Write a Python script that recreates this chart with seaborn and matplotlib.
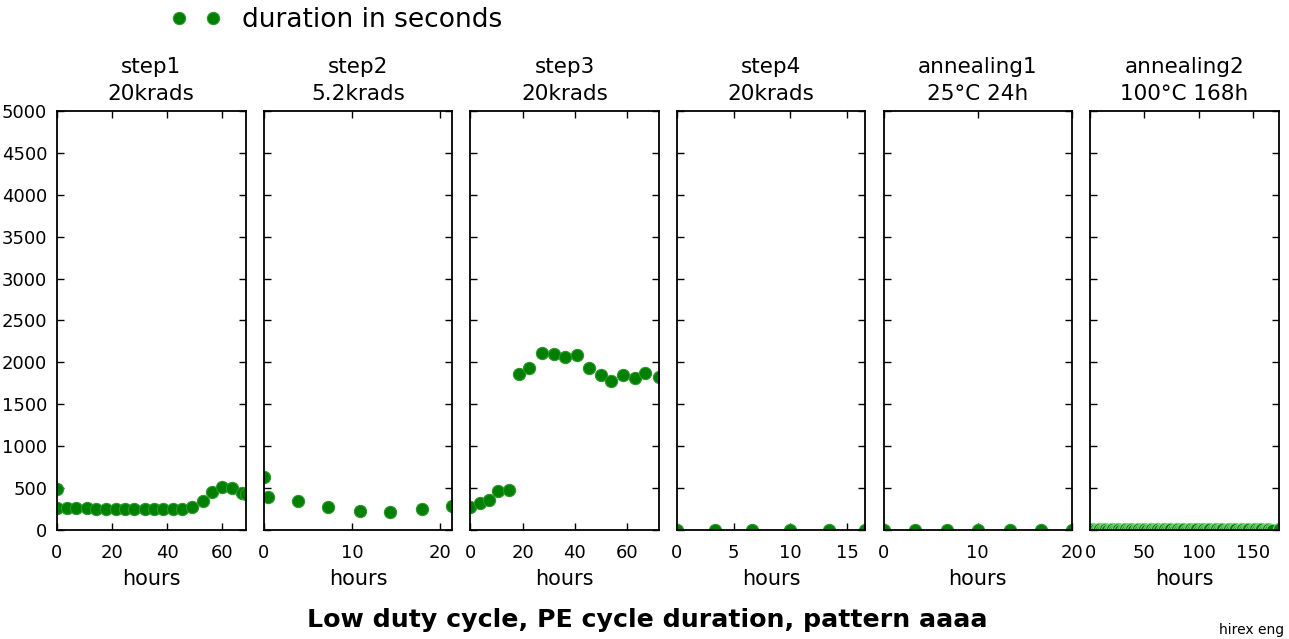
import matplotlib
matplotlib.use("Agg")
import matplotlib.pyplot as plt
import seaborn as sns
import pandas as pd

# ---- measurements: elapsed hours and PE cycle duration (seconds) per phase ----
titles = ["step1\n20krads", "step2\n5.2krads", "step3\n20krads",
          "step4\n20krads", "annealing1\n25°C 24h", "annealing2\n100°C 168h"]

step1_hours = [0, 0, 3.8, 7.0, 10.9, 14.3, 17.7, 21.3, 24.7, 28.1, 31.8, 35.1,
               38.5, 42.1, 45.5, 49.1, 52.8, 56.3, 59.9, 63.4, 67.1, 68.4]
step1_secs = [489, 262, 262, 266, 262, 247, 247, 247, 247, 247, 247, 247,
              247, 247, 247, 278, 342, 453, 513, 497, 437, 427]

step2_hours = [0, 0.5, 3.85, 7.3, 10.9, 14.35, 17.9, 21.35]
step2_secs = [636, 390, 342, 278, 230, 218, 250, 290]

step3_hours = [0, 3.7, 7.3, 10.7, 14.7, 18.8, 22.6, 27.3, 31.9, 36.4, 40.7,
               45.3, 50.1, 54.0, 58.3, 63.1, 67.0, 72.1]
step3_secs = [278, 326, 358, 469, 481, 1861, 1936, 2112, 2100, 2064, 2088,
              1936, 1845, 1781, 1845, 1810, 1877, 1829]

step4_hours = [0, 3.4, 6.6, 10.0, 13.4, 16.6]
step4_secs = [3, 4, 3, 4, 3, 3]

anneal1_hours = [0, 3.3, 6.7, 10.0, 13.4, 16.7, 20.0]
anneal1_secs = [3, 3, 4, 3, 4, 3, 3]

anneal2_hours = [0, 2, 4, 6, 8, 10, 12, 14, 16, 18, 20, 22, 24, 26, 28, 30,
                 32, 34, 36, 38, 40, 42, 44, 46, 48, 50, 52, 54, 56, 58, 60,
                 62, 64, 66, 68, 70, 72, 74, 76, 78, 80, 82, 84, 86, 88, 90,
                 92, 94, 96, 98, 100, 102, 104, 106, 108, 110, 112, 114, 116,
                 118, 120, 122, 124, 126, 128, 130, 132, 134, 136, 138, 140,
                 142, 144, 146, 148, 150, 152, 154, 156, 158, 160, 162, 164,
                 166, 168, 174]
anneal2_secs = [5, 6, 5, 5, 6, 5, 5, 6, 5, 5, 6, 5, 5, 6, 5, 5,
                6, 5, 5, 6, 5, 5, 6, 5, 5, 6, 5, 5, 6, 5, 5,
                6, 5, 5, 6, 5, 5, 6, 5, 5, 6, 5, 5, 6, 5, 5,
                6, 5, 5, 6, 5, 5, 6, 5, 5, 6, 5, 5, 6,
                5, 5, 6, 5, 5, 6, 5, 5, 6, 5, 5, 6,
                5, 5, 6, 5, 5, 6, 5, 5, 6, 5, 5, 6,
                5, 5, 6]

hours = [step1_hours, step2_hours, step3_hours, step4_hours, anneal1_hours, anneal2_hours]
secs = [step1_secs, step2_secs, step3_secs, step4_secs, anneal1_secs, anneal2_secs]
xticks = [[0, 20, 40, 60], [0, 10, 20], [0, 20, 40, 60],
          [0, 5, 10, 15], [0, 10, 20], [0, 50, 100, 150]]
yticks = [0, 500, 1000, 1500, 2000, 2500, 3000, 3500, 4000, 4500, 5000]

sns.set_style("white")
plt.rcParams.update({
    "font.family": ["DejaVu Sans"],
    "text.color": "black", "axes.labelcolor": "black",
    "axes.titlecolor": "black",
    "xtick.direction": "in", "ytick.direction": "in",
    "xtick.top": True, "ytick.right": True,
    "xtick.bottom": True, "ytick.left": True,
    "xtick.major.size": 5, "ytick.major.size": 5,
    "xtick.major.width": 1.0, "ytick.major.width": 1.0,
    "xtick.color": "black", "ytick.color": "black",
    "xtick.labelcolor": "black", "ytick.labelcolor": "black",
    "axes.edgecolor": "black", "axes.linewidth": 1.3,
})

fig, axes = plt.subplots(1, 6, sharey=True, figsize=(12.89, 6.39), dpi=100)
fig.patch.set_facecolor("white")
fig.subplots_adjust(left=0.0442, right=0.992, bottom=0.1706, top=0.8263, wspace=0.096)

green = "#008000"
for i, ax in enumerate(axes):
    df = pd.DataFrame({"hours": hours[i], "duration": secs[i]})
    edge = "#7ccf7c" if i == 5 else "#2f952f"
    sns.lineplot(data=df, x="hours", y="duration", ax=ax, estimator=None,
                 sort=False, linestyle="", marker="o", markersize=8.8,
                 color=green, markeredgecolor=edge, markeredgewidth=0.8,
                 label="duration in seconds" if i == 0 else None)
    ax.set_xlim(0, max(hours[i]))
    ax.set_ylim(0, 5000)
    ax.set_xticks(xticks[i])
    ax.set_yticks(yticks)
    ax.tick_params(labelsize=13)
    ax.tick_params(axis="x", pad=10)
    ax.tick_params(axis="y", pad=7)
    ax.set_title(titles[i], fontsize=15.5, pad=8, linespacing=1.4)
    ax.set_xlabel("hours", fontsize=15, labelpad=5)
    ax.set_ylabel("")
    for s in ax.spines.values():
        s.set_visible(True)
        s.set_color("black")

handles, labels = axes[0].get_legend_handles_labels()
if axes[0].get_legend() is not None:
    axes[0].get_legend().remove()
fig.legend(handles, labels, loc="center left", bbox_to_anchor=(0.114, 0.969),
           frameon=False, numpoints=2, fontsize=19, handlelength=1.92,
           handletextpad=0.8, borderpad=0.4)

fig.text(0.502, 0.03, "Low duty cycle, PE cycle duration, pattern aaaa",
         ha="center", va="center", fontsize=18.2, fontweight="bold")
fig.text(0.996, 0.014, "hirex eng", ha="right", va="center", fontsize=10)

fig.savefig("out.png", dpi=100, facecolor="white")
